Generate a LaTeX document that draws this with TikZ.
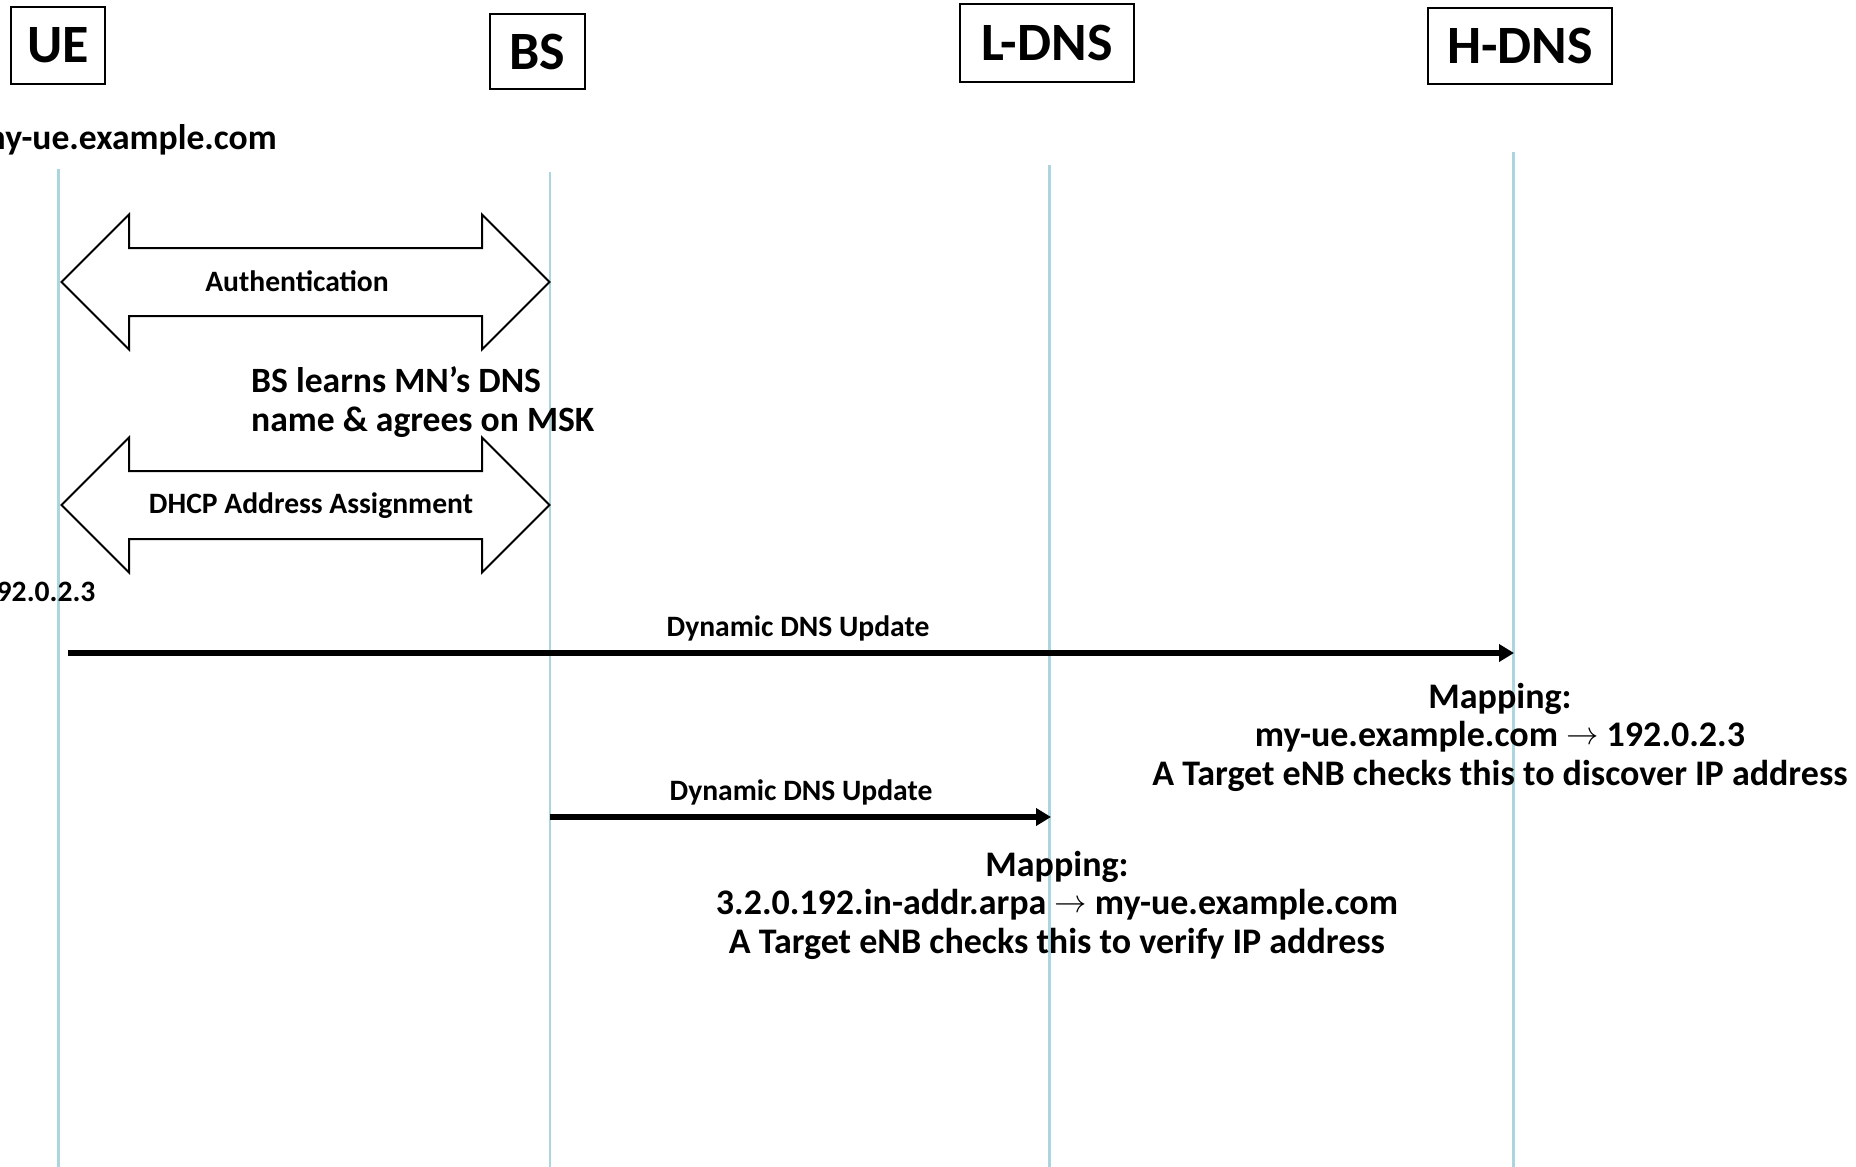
\documentclass[tikz,border=0pt]{standalone}
\usepackage{fontspec}
\setmainfont{Carlito}
\usetikzlibrary{arrows.meta}
\definecolor{lifeline}{RGB}{172,214,222}
\newcommand{\mapsarrow}{\raisebox{0.05em}{\scalebox{1.3}{$\rightarrow$}}}
\begin{document}
\begin{tikzpicture}[x=1pt,y=-1pt,
  actor/.style={draw, line width=2pt, inner sep=0pt,
    font=\fontsize{54}{64}\selectfont\bfseries},
  life/.style={draw=lifeline, line width=2.2pt},
  msg/.style={line width=6pt, -{Triangle[length=15pt,width=17pt]}},
  exch/.style={draw, line width=2pt, line join=miter},
  lbl/.style={font=\fontsize{29.6}{35}\selectfont\bfseries},
  note/.style={font=\fontsize{35.6}{39}\selectfont\bfseries, align=left, inner sep=0pt},
  map/.style={font=\fontsize{36}{38.5}\selectfont\bfseries, align=center},
  exchange/.pic={
    \draw[exch] (0,0) -- (67.5,-67.5) -- (67.5,-34) -- (420.5,-34)
      -- (420.5,-67.5) -- (488,0) -- (420.5,67.5) -- (420.5,34)
      -- (67.5,34) -- (67.5,67.5) -- cycle;
  }]
\useasboundingbox (0,0) rectangle (1856,1167);

% participants
\node[actor, minimum width=94pt, minimum height=77pt] (ue) at (58,45.5) {UE};
\node[actor, minimum width=95pt, minimum height=75pt] (bs) at (537.5,51.5) {BS};
\node[actor, minimum width=174pt, minimum height=78pt] (ldns) at (1047,43) {L-DNS};
\node[actor, minimum width=184pt, minimum height=76pt] (hdns) at (1520,46) {H-DNS};

% lifelines
\coordinate (ueTop) at (58.5,169);   \coordinate (ueBot) at (58.5,1167);
\coordinate (bsTop) at (550,172);    \coordinate (bsBot) at (550,1167);
\coordinate (ldTop) at (1049.5,165); \coordinate (ldBot) at (1049.5,1167);
\coordinate (hdTop) at (1513.5,152); \coordinate (hdBot) at (1513.5,1167);
\draw[life] (ueTop) -- (ueBot);
\draw[life] (bsTop) -- (bsBot);
\draw[life] (ldTop) -- (ldBot);
\draw[life] (hdTop) -- (hdBot);

% UE name
\node[note, anchor=east] (uename) at (277,140) {my-ue.example.com};

% UE <-> BS exchanges
\pic at (61.5,282) {exchange};
\node[lbl] (auth) at (297,281.5) {Authentication};
\node[note, anchor=west] (learn) at (251,402) {BS learns MN’s DNS\\name \& agrees on MSK};
\pic at (61.5,505) {exchange};
\node[lbl] (dhcp) at (311,505.5) {DHCP Address Assignment};
\node[lbl, anchor=east] (ueip) at (99,592) {192.0.2.3};

% dynamic DNS updates
\coordinate (u1s) at (68,653);  \coordinate (u1e) at (1514,653);
\draw[msg] (u1s) -- (u1e);
\node[lbl] (upd1) at (798,628.5) {Dynamic DNS Update};
\node[map] (map1) at (1500,737) {Mapping:\\my-ue.example.com \mapsarrow{} 192.0.2.3\\A Target eNB checks this to discover IP address};

\coordinate (u2s) at (550,817); \coordinate (u2e) at (1051,817);
\draw[msg] (u2s) -- (u2e);
\node[lbl] (upd2) at (801,792.5) {Dynamic DNS Update};
\node[map] (map2) at (1057,905) {Mapping:\\3.2.0.192.in-addr.arpa \mapsarrow{} my-ue.example.com\\A Target eNB checks this to verify IP address};
\end{tikzpicture}
\end{document}
